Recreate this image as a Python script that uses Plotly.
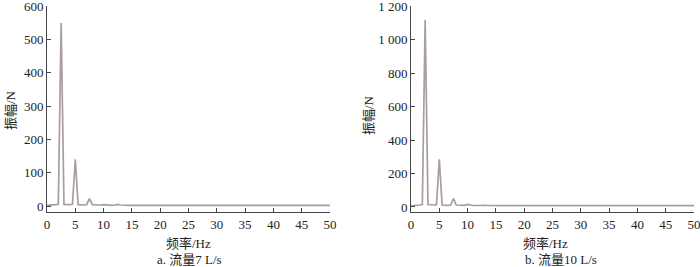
import plotly.graph_objects as go

freq = [i * 0.5 for i in range(101)]

amp_7 = [2, 2, 3, 4, 5, 550, 5, 4, 4, 5, 140, 4, 3, 3, 4, 22, 4, 3, 3, 3,
         4, 3, 2, 2, 3, 5, 3, 2, 2, 2, 2, 2, 2, 2, 2, 2, 2, 2, 2, 2,
         3, 2, 2, 2, 2, 2, 2, 2, 2, 2, 2, 2, 2, 2, 2, 2, 2, 2, 2, 2,
         2, 2, 2, 2, 2, 2, 2, 2, 2, 2, 2, 2, 2, 2, 2, 2, 2, 2, 2, 2,
         2, 2, 2, 2, 2, 2, 2, 2, 2, 2, 2, 2, 2, 2, 2, 2, 2, 2, 2, 2, 2]

amp_10 = [6, 7, 9, 12, 15, 1120, 15, 12, 12, 14, 285, 12, 10, 10, 12, 50, 12, 10, 10, 10,
          15, 11, 9, 9, 10, 13, 10, 9, 8, 8, 8, 8, 8, 8, 8, 8, 8, 8, 8, 8,
          9, 8, 8, 8, 8, 8, 8, 8, 8, 8, 8, 8, 8, 8, 8, 8, 8, 8, 8, 8,
          8, 8, 8, 8, 8, 8, 8, 8, 8, 8, 8, 8, 8, 8, 8, 8, 8, 8, 8, 8,
          8, 8, 8, 8, 8, 8, 8, 8, 8, 8, 8, 8, 8, 8, 8, 8, 8, 8, 8, 8, 8]

x_ticks = [0, 5, 10, 15, 20, 25, 30, 35, 40, 45, 50]
y_ticks_a = [0, 100, 200, 300, 400, 500, 600]
y_ticks_b = [0, 200, 400, 600, 800, 1000, 1200]
y_text_b = ["0", "200", "400", "600", "800", "1 000", "1 200"]

x_title = "频率/Hz"
y_title = "振幅/N"
sub_a = "a. 流量7 L/s"
sub_b = "b. 流量10 L/s"

FONT = "Liberation Serif, Noto Sans CJK SC, serif"
LINE = "#a99e9c"
AX = "#444444"

fig = go.Figure()
fig.add_trace(go.Scatter(x=freq, y=amp_7, mode="lines", line=dict(color=LINE, width=1.7),
                         xaxis="x", yaxis="y", showlegend=False, cliponaxis=False))
fig.add_trace(go.Scatter(x=freq, y=amp_10, mode="lines", line=dict(color=LINE, width=1.7),
                         xaxis="x2", yaxis="y2", showlegend=False, cliponaxis=False))

ydom = [55 / 267, 261 / 267]
common_x = dict(range=[0, 50], tickvals=x_ticks, ticks="inside", ticklen=4, tickcolor=AX,
                showline=True, linecolor=AX, linewidth=1, showgrid=False, zeroline=False,
                automargin=False, ticklabeloverflow="allow",
                tickfont=dict(family=FONT, size=13, color="#222"))
common_y = dict(ticks="inside", ticklen=4, tickcolor=AX, showline=True, linecolor=AX,
                linewidth=1, showgrid=False, zeroline=False, automargin=False,
                ticklabeloverflow="allow",
                tickfont=dict(family=FONT, size=13, color="#222"))

fig.update_layout(
    width=700, height=267,
    margin=dict(l=0, r=0, t=0, b=0, autoexpand=False),
    paper_bgcolor="white", plot_bgcolor="white",
    xaxis=dict(domain=[47 / 700, 330 / 700], anchor="y", **common_x),
    yaxis=dict(domain=ydom, anchor="x", range=[-18, 601], tickvals=y_ticks_a, **common_y),
    xaxis2=dict(domain=[411 / 700, 694 / 700], anchor="y2", **common_x),
    yaxis2=dict(domain=ydom, anchor="x2", range=[-30, 1202], tickvals=y_ticks_b,
                ticktext=y_text_b, **common_y),
)

ann_font = dict(family=FONT, size=13, color="#222")
anns = [
    dict(x=188 / 700, y=1 - 243 / 267, text=x_title),
    dict(x=189 / 700, y=1 - 259 / 267, text=sub_a),
    dict(x=545 / 700, y=1 - 243 / 267, text=x_title),
    dict(x=561 / 700, y=1 - 259 / 267, text=sub_b),
    dict(x=10 / 700, y=1 - 110 / 267, text=y_title, textangle=-90),
    dict(x=369 / 700, y=1 - 115 / 267, text=y_title, textangle=-90),
]
for a in anns:
    fig.add_annotation(xref="paper", yref="paper", showarrow=False, xanchor="center",
                       yanchor="middle", font=ann_font, **a)

fig.write_html("out.html", config={"displayModeBar": False, "staticPlot": True},
               post_script="document.body.style.margin='0';document.body.style.padding='0';")
